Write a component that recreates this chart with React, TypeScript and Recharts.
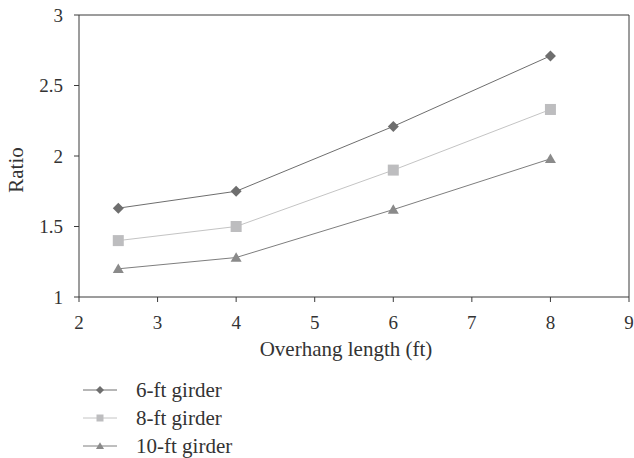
import React from 'react';
import { LineChart, Line, XAxis, YAxis, ReferenceLine, Legend } from 'recharts';

const xValues = [2.5, 4, 6, 8];
const girder6 = [1.63, 1.75, 2.21, 2.71];
const girder8 = [1.4, 1.5, 1.9, 2.33];
const girder10 = [1.2, 1.28, 1.62, 1.98];
const seriesNames = ['6-ft girder', '8-ft girder', '10-ft girder'];
const xTicks = [2, 3, 4, 5, 6, 7, 8, 9];
const yTicks = [1, 1.5, 2, 2.5, 3];

const data = xValues.map((x, i) => ({ x, g6: girder6[i], g8: girder8[i], g10: girder10[i] }));

const FONT = "'Liberation Serif', 'DejaVu Serif', serif";
const TEXT = '#333';
const AXIS = '#3a3a3a';
const C6 = '#6e6e6e';
const C8 = '#bdbdbf';
const C10 = '#8a8a8a';
const L6 = '#6e6e6e';
const L8 = '#c4c4c4';
const L10 = '#7e7e7e';

type MP = { cx: number; cy: number; s: number; fill: string };
const Diamond = ({ cx, cy, s, fill }: MP) => (
  <path d={`M${cx},${cy - s} L${cx + s},${cy} L${cx},${cy + s} L${cx - s},${cy} Z`} fill={fill} />
);
const Square = ({ cx, cy, s, fill }: MP) => (
  <rect x={cx - s} y={cy - s} width={2 * s} height={2 * s} fill={fill} />
);
const Triangle = ({ cx, cy, s, fill }: MP) => (
  <path d={`M${cx},${cy - s * 0.95} L${cx + s},${cy + s * 0.75} L${cx - s},${cy + s * 0.75} Z`} fill={fill} />
);

const legendRows = [
  { name: seriesNames[0], line: L6, fill: C6, Shape: Diamond, s: 4 },
  { name: seriesNames[1], line: L8, fill: C8, Shape: Square, s: 3.5 },
  { name: seriesNames[2], line: L10, fill: C10, Shape: Triangle, s: 4 },
];

const LegendContent = () => (
  <svg width={300} height={83}>
    {legendRows.map((r, i) => {
      const y = 15 + i * 28;
      const S = r.Shape;
      return (
        <g key={r.name}>
          <line x1={83} x2={117} y1={y} y2={y} stroke={r.line} strokeWidth={1} />
          <S cx={100} cy={y} s={r.s} fill={r.fill} />
          <text x={136} y={y + 7} fontFamily={FONT} fontSize={21} fill={TEXT}>
            {r.name}
          </text>
        </g>
      );
    })}
  </svg>
);

export default function App() {
  return (
    <div style={{ position: 'absolute', left: 0, top: 0, width: 634, height: 458, background: '#fff' }}>
      <LineChart width={634} height={458} data={data} margin={{ top: 15, right: 5, left: 0, bottom: 101 }}>
        <XAxis
          dataKey="x"
          type="number"
          domain={[2, 9]}
          ticks={xTicks}
          interval={0}
          tickSize={5}
          tickMargin={14}
          height={60}
          stroke={AXIS}
          tick={{ fill: TEXT, fontFamily: FONT, fontSize: 19 }}
          label={{
            content: () => (
              <text x={346} y={356} textAnchor="middle" fontFamily={FONT} fontSize={21} fill={TEXT}>
                Overhang length (ft)
              </text>
            ),
          }}
        />
        <YAxis
          type="number"
          domain={[1, 3]}
          ticks={yTicks}
          interval={0}
          width={79}
          tickSize={5}
          tickMargin={11}
          stroke={AXIS}
          tick={{ fill: TEXT, fontFamily: FONT, fontSize: 19 }}
          label={{
            content: () => (
              <text
                x={16}
                y={170}
                transform="rotate(-90,16,170)"
                textAnchor="middle"
                dominantBaseline="central"
                fontFamily={FONT}
                fontSize={21}
                fill={TEXT}
              >
                Ratio
              </text>
            ),
          }}
        />
        <ReferenceLine y={3} stroke={AXIS} strokeWidth={1} />
        <ReferenceLine x={9} stroke={AXIS} strokeWidth={1} />
        <Line
          dataKey="g6"
          name={seriesNames[0]}
          stroke={L6}
          strokeWidth={1}
          isAnimationActive={false}
          dot={(p: any) => <Diamond key={`d6-${p.index}`} cx={p.cx} cy={p.cy} s={5.5} fill={C6} />}
          activeDot={false}
        />
        <Line
          dataKey="g8"
          name={seriesNames[1]}
          stroke={L8}
          strokeWidth={1}
          isAnimationActive={false}
          dot={(p: any) => <Square key={`d8-${p.index}`} cx={p.cx} cy={p.cy} s={5.5} fill={C8} />}
          activeDot={false}
        />
        <Line
          dataKey="g10"
          name={seriesNames[2]}
          stroke={L10}
          strokeWidth={1}
          isAnimationActive={false}
          dot={(p: any) => <Triangle key={`d10-${p.index}`} cx={p.cx} cy={p.cy} s={5.5} fill={C10} />}
          activeDot={false}
        />
        <Legend
          layout="horizontal"
          verticalAlign="middle"
          align="center"
          wrapperStyle={{ left: 0, top: 375, width: 300, height: 83 }}
          content={() => <LegendContent />}
        />
      </LineChart>
    </div>
  );
}
